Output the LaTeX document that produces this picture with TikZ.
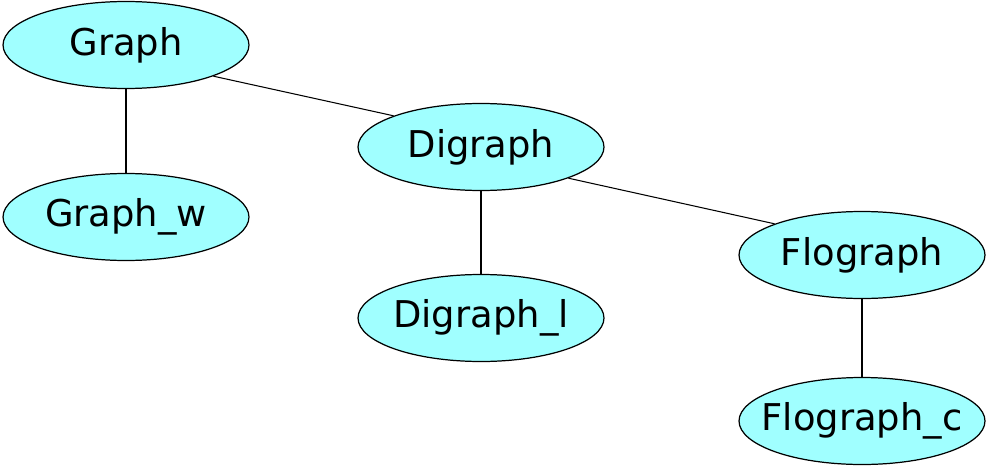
\documentclass[tikz,border=0pt]{standalone}
\usepackage{fontspec}
\setmainfont{DejaVu Sans}
\usetikzlibrary{shapes.geometric, positioning}
\definecolor{nodecyan}{HTML}{A0FFFF}

\begin{document}
\begin{tikzpicture}[x=0.02cm, y=-0.02cm,
    cls/.style={ellipse, draw, line width=0.7pt, fill=nodecyan,
      minimum width=4.92cm, minimum height=1.74cm,
      inner xsep=-30pt, inner ysep=0pt,
      font=\fontsize{21}{25}\selectfont},
    link/.style={draw, line width=0.6pt}]
    \useasboundingbox (0,0) rectangle (993,466);

    \node[cls] (graph)     at (126,45)  {Graph};
    \node[cls] (graphw)    at (126,217) {Graph\_w};
    \node[cls] (digraph)   at (481,147) {Digraph};
    \node[cls] (digraphl)  at (481,318) {Digraph\_l};
    \node[cls] (flograph)  at (862,255) {Flograph};
    \node[cls] (flographc) at (862,421) {Flograph\_c};

    \draw[link] (graph.south east) -- (digraph.north west);
    \draw[link] (graph) -- (graphw);
    \draw[link] (digraph.south east) -- (flograph.north west);
    \draw[link] (digraph) -- (digraphl);
    \draw[link] (flograph) -- (flographc);
  \end{tikzpicture}
\end{document}
